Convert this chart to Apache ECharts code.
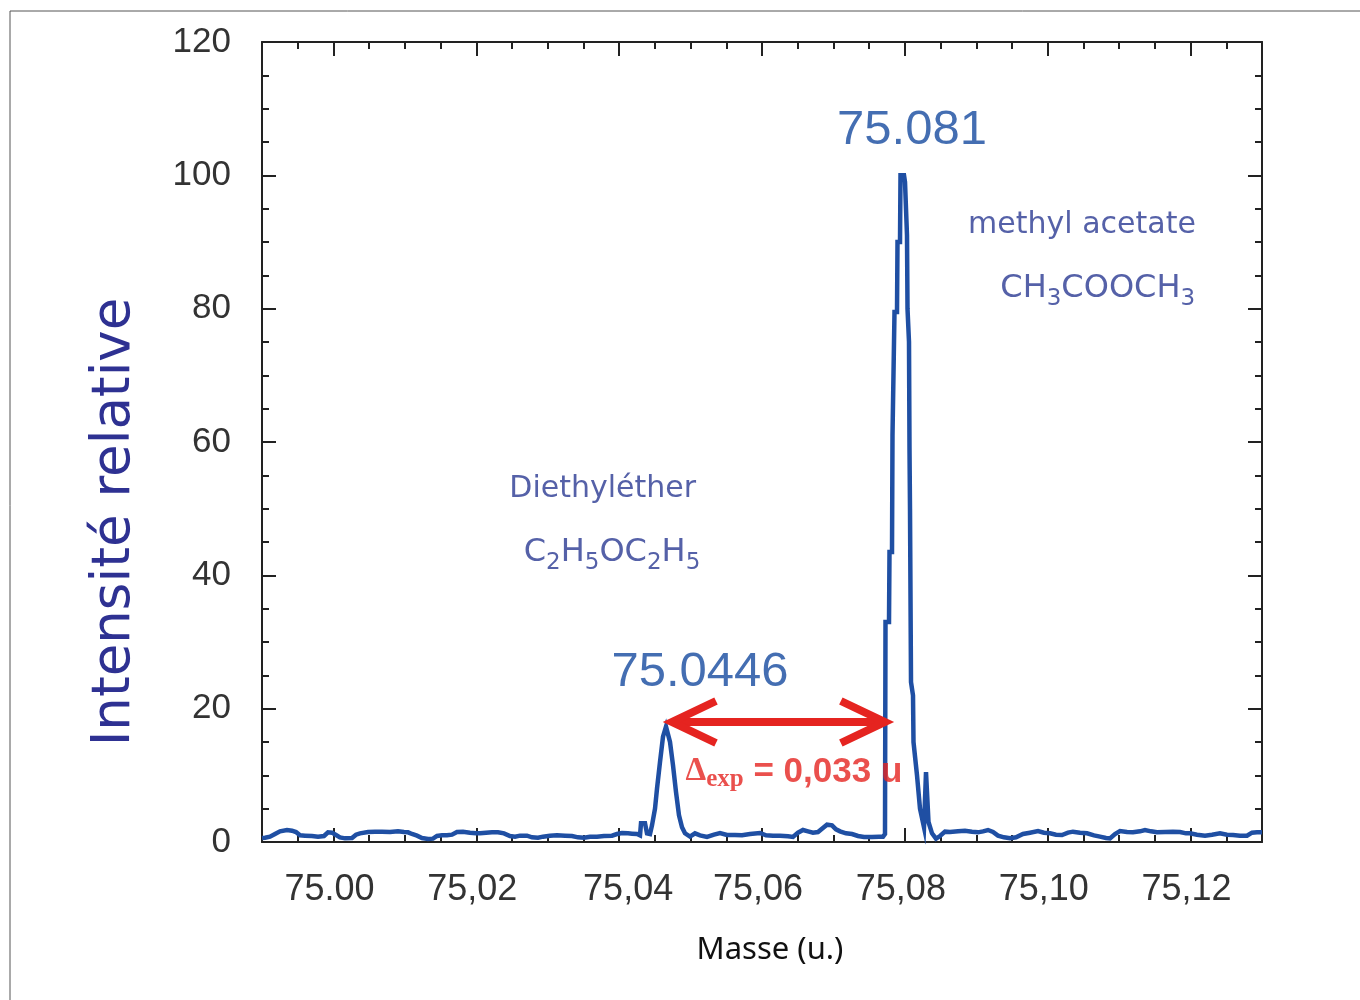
<!DOCTYPE html>
<html>
<head>
<meta charset="utf-8">
<script src="https://cdn.jsdelivr.net/npm/echarts@6/dist/echarts.min.js"></script>
<style>
html, body { margin: 0; padding: 0; background: #fff; }
#chart { width: 1360px; height: 1000px; }
</style>
</head>
<body>
<div id="chart"></div>
<script>
// Mass spectrum around m/z 75: diethyl ether and methyl acetate doublet
const masses = [
  74.99000, 74.99042, 74.99112, 74.99182, 74.99252, 74.99350, 74.99420, 74.99476, 74.99532, 74.99602,
  74.99700, 74.99784, 74.99868, 74.99924, 74.99980, 75.00036, 75.00092, 75.00162, 75.00260, 75.00316,
  75.00372, 75.00484, 75.00582, 75.00680, 75.00792, 75.00904, 75.00988, 75.01044, 75.01100, 75.01170,
  75.01240, 75.01324, 75.01394, 75.01450, 75.01520, 75.01590, 75.01660, 75.01730, 75.01814, 75.01912,
  75.01996, 75.02052, 75.02136, 75.02220, 75.02304, 75.02388, 75.02472, 75.02542, 75.02612, 75.02710,
  75.02780, 75.02864, 75.02934, 75.03032, 75.03130, 75.03242, 75.03340, 75.03424, 75.03508, 75.03592,
  75.03690, 75.03788, 75.03900, 75.03970, 75.04040, 75.04124, 75.04180, 75.04250, 75.04292, 75.04306,
  75.04362, 75.04390, 75.04432, 75.04460, 75.04502, 75.04530, 75.04572, 75.04614, 75.04656, 75.04684,
  75.04712, 75.04754, 75.04796, 75.04838, 75.04880, 75.04922, 75.04992, 75.05062, 75.05132, 75.05230,
  75.05328, 75.05412, 75.05510, 75.05622, 75.05720, 75.05832, 75.05972, 75.06056, 75.06154, 75.06252,
  75.06364, 75.06434, 75.06504, 75.06574, 75.06644, 75.06714, 75.06784, 75.06840, 75.06910, 75.06980,
  75.07036, 75.07092, 75.07176, 75.07260, 75.07344, 75.07428, 75.07540, 75.07638, 75.07694, 75.07722,
  75.07729, 75.07778, 75.07785, 75.07820, 75.07827, 75.07848, 75.07855, 75.07890, 75.07897, 75.07932,
  75.07939, 75.07988, 75.08002, 75.08030, 75.08037, 75.08058, 75.08065, 75.08072, 75.08086, 75.08114,
  75.08121, 75.08170, 75.08212, 75.08268, 75.08289, 75.08296, 75.08324, 75.08331, 75.08380, 75.08436,
  75.08492, 75.08562, 75.08632, 75.08744, 75.08842, 75.08940, 75.09024, 75.09094, 75.09164, 75.09234,
  75.09304, 75.09388, 75.09472, 75.09556, 75.09654, 75.09752, 75.09864, 75.09948, 75.10032, 75.10116,
  75.10200, 75.10284, 75.10354, 75.10452, 75.10550, 75.10648, 75.10732, 75.10816, 75.10872, 75.10942,
  75.11012, 75.11110, 75.11194, 75.11292, 75.11362, 75.11446, 75.11530, 75.11642, 75.11754, 75.11852,
  75.11936, 75.11992, 75.12090, 75.12202, 75.12300, 75.12412, 75.12510, 75.12594, 75.12692, 75.12790,
  75.12860, 75.12930, 75.13000
];
const intensities = [
  0.6, 0.65, 0.8, 1.2, 1.6, 1.8, 1.7, 1.5, 1.0, 0.95,
  0.9, 0.8, 0.9, 1.45, 1.4, 1.05, 0.7, 0.55, 0.6, 1.1,
  1.3, 1.5, 1.55, 1.55, 1.5, 1.6, 1.5, 1.45, 1.2, 0.95,
  0.6, 0.45, 0.5, 0.9, 1.0, 1.0, 1.1, 1.5, 1.55, 1.4,
  1.3, 1.3, 1.4, 1.45, 1.45, 1.3, 0.9, 0.8, 0.95, 0.95,
  0.7, 0.65, 0.8, 0.95, 1.0, 0.95, 0.9, 0.7, 0.65, 0.8,
  0.8, 0.9, 0.95, 1.2, 1.35, 1.3, 1.25, 1.2, 1.0, 2.8,
  2.8, 1.3, 1.2, 2.5, 5, 8, 12, 15.8, 17.3, 17.0,
  15, 11.5, 7.5, 4, 2.2, 1.3, 0.8, 1.3, 1.0, 0.75,
  1.1, 1.35, 1.05, 1.05, 1.0, 1.2, 1.35, 1.0, 0.95, 0.95,
  0.85, 0.75, 1.4, 1.8, 1.6, 1.4, 1.5, 2.0, 2.6, 2.5,
  1.9, 1.6, 1.3, 1.2, 0.9, 0.75, 0.75, 0.8, 0.8, 1.2,
  33, 33, 43.5, 43.5, 61, 61, 79.5, 79.5, 90, 90,
  100, 100, 99, 91, 80, 75, 59, 50, 24, 22,
  15, 10, 5, 2.2, 2.2, 10.5, 10.5, 3, 1.3, 0.5,
  0.9, 1.55, 1.5, 1.6, 1.7, 1.55, 1.45, 1.6, 1.8, 1.5,
  0.95, 0.7, 0.55, 0.7, 1.2, 1.4, 1.65, 1.4, 1.3, 1.1,
  1.05, 1.4, 1.55, 1.4, 1.3, 1.0, 0.8, 0.6, 0.55, 1.2,
  1.65, 1.5, 1.45, 1.6, 1.8, 1.6, 1.45, 1.5, 1.55, 1.5,
  1.3, 1.3, 1.1, 0.95, 1.1, 1.3, 1.1, 1.05, 0.95, 0.95,
  1.4, 1.45, 1.45
];

// Mass axis ticks and their printed labels
const massMin = 74.99;
const massMax = 75.13;
const majorTicks = [75.00, 75.02, 75.04, 75.06, 75.08, 75.10, 75.12];
const tickLabels = ['75.00', '75,02', '75,04', '75,06', '75,08', '75,10', '75,12'];
const minorTicks = [74.995, 75.005, 75.010, 75.015, 75.025, 75.030, 75.035, 75.045, 75.050, 75.055,
  75.065, 75.070, 75.075, 75.085, 75.090, 75.095, 75.105, 75.110, 75.115, 75.125];

// Text notes placed in data coordinates (mass, intensity)
const noteMasses = [75.0810, 75.1048, 75.1070, 75.0377, 75.0390, 75.05132, 75.04922];
const noteValues = [106.8, 92.55, 82.6, 52.95, 43.0, 25.5, 10.3];
const noteTexts = [
  '75.081',
  'methyl acetate',
  '{n|CH}{s|3}{n|COOCH}{s|3}',
  'Diethyléther',
  '{n|C}{s|2}{n|H}{s|5}{n|OC}{s|2}{n|H}{s|5}',
  '75.0446',
  '{d|Δ}{e|exp}{t| = 0,033 u}'
];
const noteKinds = ['peak', 'name', 'formula', 'name', 'formula', 'peak', 'delta'];

// Double arrow measuring the separation between the two peaks
const arrowFrom = 75.0460;
const arrowTo = 75.0786;
const arrowLevel = 18;

const BLUE = '#1f4fa3';
const RED = '#e52420';
const INK = '#222';
const NAVY = '#2a3a92';

const noteStyles = {
  peak: {
    position: 'inside',
    color: '#154a9f', fontSize: 49, fontFamily: 'Liberation Sans'
  },
  name: {
    position: 'inside',
    color: NAVY, fontSize: 30, fontFamily: 'DejaVu Sans'
  },
  formula: {
    position: 'inside',
    rich: {
      n: { color: NAVY, fontSize: 32, lineHeight: 38, fontFamily: 'DejaVu Sans', verticalAlign: 'top' },
      s: { color: NAVY, fontSize: 23, lineHeight: 14, fontFamily: 'DejaVu Sans', verticalAlign: 'bottom' }
    }
  },
  delta: {
    position: 'right', distance: 0,
    rich: {
      d: { color: RED, fontSize: 33, lineHeight: 37, fontFamily: 'Liberation Serif', fontWeight: 'bold', verticalAlign: 'top' },
      e: { color: RED, fontSize: 25, lineHeight: 12, fontFamily: 'Liberation Serif', fontWeight: 'bold', verticalAlign: 'bottom' },
      t: { color: RED, fontSize: 35, lineHeight: 37, fontFamily: 'Liberation Sans', fontWeight: 'bold', verticalAlign: 'top' }
    }
  }
};

const noteData = noteMasses.map((m, i) => ({
  value: [m, noteValues[i]],
  label: Object.assign({ show: true, formatter: noteTexts[i] }, noteStyles[noteKinds[i]])
}));

function labelFor(value) {
  const i = majorTicks.findIndex(t => Math.abs(t - value) < 1e-7);
  if (i < 0) return '';
  return i === 2 ? '{sh|' + tickLabels[i] + '}' : tickLabels[i];
}

const frameLine = { show: true, onZero: false, lineStyle: { color: INK, width: 2 } };
const tickLine = { color: INK, width: 2 };
const TICK_TEXT = '#333';

function massAxis(position, ticks, length, withLine, withLabels) {
  return {
    type: 'value', position, min: massMin, max: massMax, gridIndex: 0,
    axisLine: withLine ? frameLine : { show: false, onZero: false },
    axisTick: { show: true, inside: true, length, customValues: ticks, lineStyle: tickLine },
    axisLabel: withLabels ? {
      show: true, customValues: majorTicks, formatter: labelFor,
      fontSize: 36, fontFamily: 'Liberation Sans', color: TICK_TEXT, margin: 30,
      padding: [0, 8, 0, 0],
      rich: { sh: { fontSize: 36, fontFamily: 'Liberation Sans', color: TICK_TEXT, padding: [0, 0, 0, 26] } }
    } : { show: false },
    splitLine: { show: false }
  };
}

function intensityAxis(position, withLabels) {
  return {
    type: 'value', position, min: 0, max: 120, interval: 20,
    axisLine: frameLine,
    axisTick: { show: true, inside: true, length: 14, lineStyle: tickLine },
    minorTick: { show: true, splitNumber: 4, length: 7, lineStyle: tickLine },
    axisLabel: withLabels ? {
      show: true, fontSize: 35, fontFamily: 'Liberation Sans', color: TICK_TEXT, margin: 31
    } : { show: false },
    splitLine: { show: false },
    minorSplitLine: { show: false }
  };
}

const xMain = massAxis('bottom', majorTicks, 14, true, true);
xMain.name = 'Masse (u.)';
xMain.nameLocation = 'middle';
xMain.nameGap = 93;
xMain.nameTextStyle = { fontSize: 31, fontFamily: 'Noto Sans', color: '#111', padding: [0, 0, 0, 16] };

const yMain = intensityAxis('left', true);
yMain.name = 'Intensité relative';
yMain.nameLocation = 'middle';
yMain.nameGap = 120;
yMain.nameTextStyle = { fontSize: 53, fontFamily: 'DejaVu Sans', color: '#2e3192', padding: [0, 160, 0, 0] };

function renderArrow(params, api) {
  const a = api.coord([api.value(0), api.value(2)]);
  const b = api.coord([api.value(1), api.value(2)]);
  const len = 44, half = 21, inset = 10;
  const style = { stroke: RED, lineWidth: 8, fill: null, lineJoin: 'miter', miterLimit: 10, lineCap: 'butt' };
  return {
    type: 'group',
    children: [
      { type: 'line', shape: { x1: a[0] + inset, y1: a[1], x2: b[0] - inset, y2: b[1] }, style },
      { type: 'polyline', shape: { points: [[a[0] + inset + len, a[1] - half], [a[0] + inset, a[1]], [a[0] + inset + len, a[1] + half]] }, style },
      { type: 'polyline', shape: { points: [[b[0] - inset - len, b[1] - half], [b[0] - inset, b[1]], [b[0] - inset - len, b[1] + half]] }, style }
    ]
  };
}

const chart = echarts.init(document.getElementById('chart'), null, { renderer: 'canvas' });
chart.setOption({
  backgroundColor: '#fff',
  animation: false,
  graphic: [
    { type: 'line', shape: { x1: 10, y1: 11, x2: 1360, y2: 11 }, style: { stroke: '#555', lineWidth: 1 }, silent: true },
    { type: 'line', shape: { x1: 10, y1: 11, x2: 10, y2: 1000 }, style: { stroke: '#555', lineWidth: 1 }, silent: true }
  ],
  grid: { left: 262, right: 98, top: 42, bottom: 158, containLabel: false },
  xAxis: [
    xMain,
    massAxis('bottom', minorTicks, 7, false, false),
    massAxis('top', majorTicks, 14, true, false),
    massAxis('top', minorTicks, 7, false, false)
  ],
  yAxis: [
    yMain,
    intensityAxis('right', false)
  ],
  series: [
    {
      type: 'line',
      name: 'spectrum',
      xAxisIndex: 0, yAxisIndex: 0,
      data: masses.map((m, i) => [m, intensities[i]]),
      showSymbol: false, symbol: 'none',
      lineStyle: { color: BLUE, width: 4.5, join: 'miter' },
      z: 3
    },
    {
      type: 'custom',
      name: 'separation',
      xAxisIndex: 0, yAxisIndex: 0,
      data: [[arrowFrom, arrowTo, arrowLevel]],
      encode: { x: [0, 1], y: 2 },
      renderItem: renderArrow,
      silent: true,
      z: 4
    },
    {
      type: 'scatter',
      name: 'notes',
      xAxisIndex: 0, yAxisIndex: 0,
      symbolSize: 1,
      itemStyle: { color: 'rgba(0,0,0,0)' },
      data: noteData,
      silent: true,
      z: 5
    }
  ]
});
</script>
</body>
</html>
